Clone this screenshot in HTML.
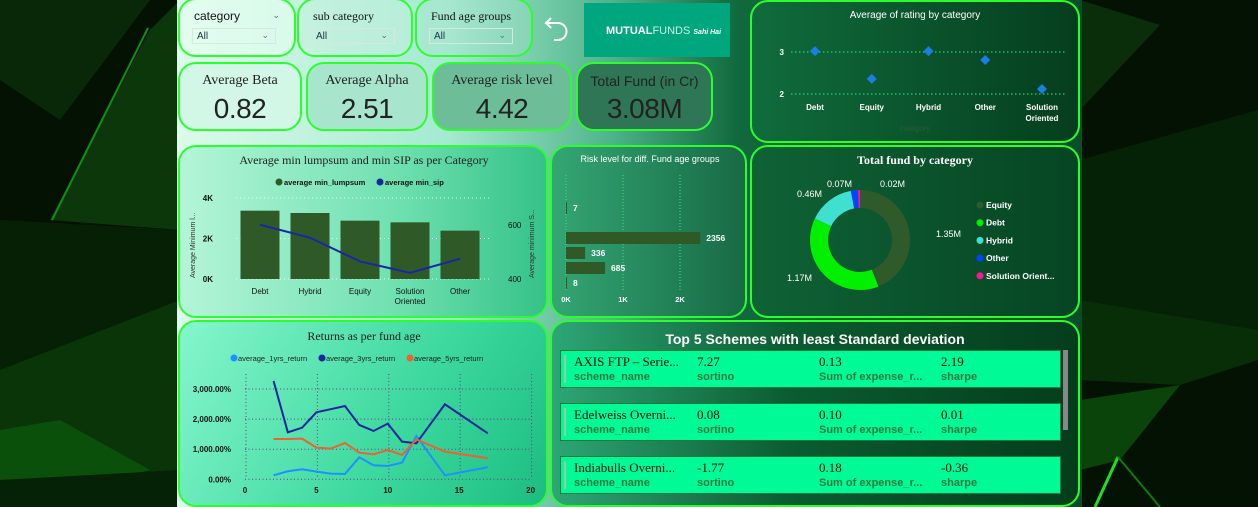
<!DOCTYPE html>
<html><head><meta charset="utf-8">
<style>
*{box-sizing:border-box;margin:0;padding:0}
body{width:1258px;height:507px;overflow:hidden;background:#041204;font-family:"Liberation Sans",sans-serif;position:relative}
.abs{position:absolute}
.panel{position:absolute;border:2px solid #2bff2b;border-radius:18px;overflow:hidden}
.slicer .lbl{position:absolute;left:14px;top:9px;font-family:"Liberation Serif",serif;font-size:12px;color:#111}
.slicer .box{position:absolute;left:12px;top:28px;width:84px;height:16px;border:1px solid #d8e8e0;font-size:10px;color:#234;padding:2px 0 0 4px}
.chev{position:absolute;right:6px;top:1px;font-size:9px;color:#577}
.kpi .t{position:absolute;left:0;right:0;top:9px;text-align:center;font-size:14px;color:#222}
.kpi .v{position:absolute;left:0;right:0;top:29px;text-align:center;font-size:28px;color:#222;font-family:"Liberation Sans Narrow","Liberation Sans",sans-serif;letter-spacing:-0.5px}
</style></head><body>
<svg class="abs" style="left:0;top:0" width="1258" height="507">
<rect width="1258" height="507" fill="#041204"/>
<polygon points="0,0 150,0 60,120 0,80" fill="#082808"/>
<polygon points="150,30 180,0 180,230 50,220" fill="#0b370b"/>
<polygon points="0,220 180,230 180,330 0,370" fill="#062006"/>
<polygon points="0,370 180,300 180,470 0,480" fill="#093509"/>
<polygon points="0,430 60,420 150,470 0,507" fill="#0a500a"/>
<polygon points="0,480 180,470 180,507 0,507" fill="#062206"/>
<line x1="148" y1="28" x2="52" y2="220" stroke="#178a17" stroke-width="2"/>
<polygon points="1080,0 1160,25 1080,110" fill="#0a2e0a"/>
<polygon points="1080,160 1258,110 1258,330 1080,300" fill="#062206"/>
<polygon points="1080,300 1258,330 1258,360 1180,385 1080,380" fill="#082e08"/>
<polygon points="1080,400 1180,385 1120,460 1080,470" fill="#0b440b"/>
<line x1="1118" y1="457" x2="1095" y2="507" stroke="#22dd22" stroke-width="3"/>
<line x1="1118" y1="457" x2="1160" y2="507" stroke="#0f7a0f" stroke-width="2"/>
</svg>

<div class="abs" style="left:177px;top:0;width:905px;height:507px;background:linear-gradient(90deg,#dcfbea 0%,#a4ead0 30%,#4fb48a 48%,#10693c 62%,#084d28 100%)"></div>

<div class="panel slicer" style="left:178px;top:-2px;width:118px;height:59px;background:rgba(230,255,242,0.6)"><div class="lbl" style="font-family:'Liberation Sans',sans-serif">category</div><span class="chev" style="top:10px;right:14px">&#8964;</span><div class="box">All<span class="chev">&#8964;</span></div></div>
<div class="panel slicer" style="left:297px;top:-2px;width:116px;height:59px;background:rgba(200,240,225,0.4)"><div class="lbl">sub category</div><div class="box">All<span class="chev">&#8964;</span></div></div>
<div class="panel slicer" style="left:415px;top:-2px;width:118px;height:59px;background:rgba(170,225,205,0.3)"><div class="lbl">Fund age groups</div><div class="box">All<span class="chev">&#8964;</span></div></div>
<svg class="abs" style="left:542px;top:14px" width="30" height="30"><path d="M4 9 H16 A8 8 0 0 1 16 26 H12" fill="none" stroke="#fff" stroke-width="2"/><path d="M9 4 L4 9 L9 14" fill="none" stroke="#fff" stroke-width="2"/></svg>
<div class="abs" style="left:584px;top:3px;width:146px;height:54px;background:#00a67e;color:#fff;font-size:11px;font-weight:bold;padding-top:22px;padding-left:22px">MUTUAL<span style="font-weight:normal;opacity:.8">FUNDS</span> <span style="font-size:7px;font-style:italic">Sahi Hai</span></div>

<div class="panel kpi" style="left:178px;top:62px;width:124px;height:69px;background:#d2f7e7"><div class="t" style="font-family:'Liberation Serif',serif">Average Beta</div><div class="v">0.82</div></div>
<div class="panel kpi" style="left:306px;top:62px;width:122px;height:69px;background:#a7e6cc"><div class="t" style="font-family:'Liberation Serif',serif">Average Alpha</div><div class="v">2.51</div></div>
<div class="panel kpi" style="left:432px;top:62px;width:140px;height:69px;background:#6cbd98"><div class="t" style="font-family:'Liberation Serif',serif">Average risk level</div><div class="v">4.42</div></div>
<div class="panel kpi" style="left:576px;top:62px;width:137px;height:69px;background:#2f7656"><div class="t">Total Fund (in Cr)</div><div class="v">3.08M</div></div>

<div class="panel" style="left:750px;top:0;width:330px;height:143px;background:linear-gradient(90deg,#106c3c,#053e1e)"></div>
<div class="panel" style="left:178px;top:145px;width:370px;height:173px;background:linear-gradient(90deg,#b4f5d8,#6ee0b0 60%,#35c288)"></div>
<div class="panel" style="left:550px;top:145px;width:197px;height:173px;background:linear-gradient(90deg,#34a674,#176a44)"></div>
<div class="panel" style="left:750px;top:145px;width:330px;height:173px;background:linear-gradient(90deg,#0f6236,#064523)"></div>
<div class="panel" style="left:178px;top:320px;width:370px;height:187px;background:linear-gradient(120deg,#86f6cc,#3cd89e 60%,#1cbd80)"></div>
<div class="panel" style="left:550px;top:320px;width:530px;height:187px;background:linear-gradient(90deg,#2ea676,#0b5c31 45%,#053d1c)">
<div class="abs" style="left:0;right:0;top:9px;text-align:center;color:#fff;font-weight:bold;font-size:14px">Top 5 Schemes with least Standard deviation</div>
</div>
<div id="tbl"></div>

<svg id="chart" class="abs" style="left:0;top:0" width="1258" height="507"></svg>

<script>
// rating chart
const ratingCats=["Debt","Equity","Hybrid","Other","Solution Oriented"];
const ratingVals=[3.02,2.36,3.02,2.81,2.12];
// lumpsum chart
const lumpCats=["Debt","Hybrid","Equity","Solution Oriented","Other"];
const lumpVals=[3374,3259,2881,2798,2387];
const sipVals=[601,553,465,423,475];
// risk chart
const riskVals=[7,null,2356,336,685,8];
const riskTicks=[0,1000,2000];
// donut
const donutCats=["Equity","Debt","Hybrid","Other","Solution Oriented"];
const donutVals=[1.35,1.17,0.46,0.07,0.02];
const donutColors=["#2f5a2a","#00f000","#3fe0d0","#0044ff","#ff1493"];
// returns
const retX=[2,3,4,5,6,7,8,9,10,11,12,14,17];
const ret1=[133,266,332,255,188,177,731,465,443,554,1440,133,399];
const ret3=[3267,1561,1716,2226,2330,2436,1805,1606,1849,1251,1196,2492,1528];
const ret5=[1340,1340,1351,1052,1019,1207,886,830,975,808,1329,919,698];
const retYTicks=[0,1000,2000,3000];
const retXTicks=[0,5,10,15,20];
// table
const schemes=["AXIS FTP – Serie...","Edelweiss Overni...","Indiabulls Overni..."];
const sortino=["7.27","0.08","-1.77"];
const expense=["0.13","0.10","0.18"];
const sharpe=["2.19","0.01","-0.36"];

const svg=document.getElementById('chart');
const NS="http://www.w3.org/2000/svg";
function mk(tag,attrs,parent){const e=document.createElementNS(NS,tag);for(const k in attrs)e.setAttribute(k,attrs[k]);(parent||svg).appendChild(e);return e;}
function txt(x,y,s,attrs,parent){const t=mk('text',Object.assign({x:x,y:y,'font-family':'Liberation Sans, sans-serif','font-size':9},attrs||{}),parent);t.textContent=s;return t;}

(function(){
const g=mk('g',{});


const x=i=>815+i*56.75, y=v=>94-(v-2)*42;
const t=txt(915,18,"Average of rating by category",{fill:'#fff','font-size':10,'text-anchor':'middle'},g);


[2,3].forEach(v=>{mk('line',{x1:791,x2:1065,y1:y(v),y2:y(v),stroke:'#1fd07a','stroke-dasharray':'1.5,2.5','stroke-width':1.3},g);const l=txt(784,y(v)+3,String(v),{fill:'#fff','font-size':8,'font-weight':'bold','text-anchor':'end'},g);});
ratingCats.forEach((c,i)=>{
 c.split(' ').forEach((w,j)=>{const l=txt(x(i),110+j*11,w,{fill:'#fff','font-size':8,'font-weight':'bold','text-anchor':'middle'},g);});
 const yy=y(ratingVals[i]);
 const d=mk('polygon',{points:`${x(i)},${yy-5} ${x(i)+5},${yy} ${x(i)},${yy+5} ${x(i)-5},${yy}`,fill:'#1a7ee6'},g);
 
 
});
txt(915,131,"category",{fill:'#2a5a3a','font-size':8,'text-anchor':'middle'},g);
})();

(function(){
const g=mk('g',{});


const x=i=>260+i*50, y=v=>279-v/4000*81, y2=v=>279-(v-400)/200*54;
const t=txt(364,164,"Average min lumpsum and min SIP as per Category",{fill:'#222','font-size':12,'font-family':'Liberation Serif, serif','text-anchor':'middle'},g);

mk('circle',{cx:279,cy:182,r:3.5,fill:'#2e5a28'},g);txt(284,185,"average min_lumpsum",{fill:'#111','font-size':7.5,'font-weight':'bold'},g);
mk('circle',{cx:380,cy:182,r:3.5,fill:'#1a28a0'},g);txt(385,185,"average min_sip",{fill:'#111','font-size':7.5,'font-weight':'bold'},g);
[0,2000,4000].forEach(v=>{mk('line',{x1:236,x2:492,y1:y(v),y2:y(v),stroke:'#fff','stroke-dasharray':'1,3',opacity:.8},g);const l=txt(213,y(v)+3,(v/1000)+"K",{fill:'#111','font-size':8,'font-weight':'bold','text-anchor':'end'},g);});
[400,600].forEach(v=>{const l=txt(508,y2(v)+3,String(v),{fill:'#111','font-size':8},g);});
const a=txt(0,0,"Average Minimum l...",{fill:'#333','font-size':7,transform:'translate(195,278) rotate(-90)'},g);
const b=txt(0,0,"Average minimum S...",{fill:'#333','font-size':7,transform:'translate(534,278) rotate(-90)'},g);
lumpVals.forEach((v,i)=>{const r=mk('rect',{x:x(i)-19.5,y:y(v),width:39,height:279-y(v),fill:'#2f5a28'},g);
 lumpCats[i].split(' ').forEach((w,j)=>{const l=txt(x(i),294+j*10,w,{fill:'#111','font-size':8,'text-anchor':'middle'},g);});});
const p=mk('polyline',{points:sipVals.map((v,i)=>x(i)+','+y2(v)).join(' '),fill:'none',stroke:'#1a28a0','stroke-width':2},g);

})();

(function(){
const g=mk('g',{});


const x=v=>566+v/1000*57, rowY=i=>208+i*15;
const t=txt(650,162,"Risk level for diff. Fund age groups",{fill:'#fff','font-size':9,'text-anchor':'middle'},g);
riskTicks.forEach(v=>{mk('line',{x1:x(v),x2:x(v),y1:175,y2:290,stroke:'#3fe08a','stroke-dasharray':'1,2'},g);const l=txt(x(v),302,(v/1000)+"K",{fill:'#fff','font-size':7.5,'font-weight':'bold','text-anchor':'middle'},g);});
riskVals.forEach((v,i)=>{if(v===null)return;const r=mk('rect',{x:566,y:rowY(i)-6,width:Math.max(1,x(v)-566),height:12,fill:'#2f5a28'},g);
 const l=txt(Math.max(x(v),567)+6,rowY(i)+3,String(v),{fill:'#fff','font-size':8.5,'font-weight':'bold'},g);});
})();

(function(){
const g=mk('g',{});


const cx=860,cy=240,R=50,r=32;
const t=txt(915,164,"Total fund by category",{fill:'#fff','font-size':12,'font-weight':'bold','font-family':'Liberation Serif, serif','text-anchor':'middle'},g);
const tot=donutVals.reduce((a,b)=>a+b,0);let a0=-Math.PI/2;
const labelPos=[[936,237,'start'],[812,281,'end'],[822,197,'end'],[852,187,'end'],[880,187,'start']];
donutVals.forEach((v,i)=>{const a1=a0+v/tot*2*Math.PI;const big=(a1-a0)>Math.PI?1:0;
 const P=(rad,a)=>[cx+rad*Math.cos(a),cy+rad*Math.sin(a)];
 const [x0,y0]=P(R,a0),[x1,y1]=P(R,a1),[x2,y2]=P(r,a1),[x3,y3]=P(r,a0);
 const s=mk('path',{d:`M${x0},${y0} A${R},${R} 0 ${big} 1 ${x1},${y1} L${x2},${y2} A${r},${r} 0 ${big} 0 ${x3},${y3}Z`,fill:donutColors[i]},g);
 
 const lp=labelPos[i];const l=txt(lp[0],lp[1],v.toFixed(2)+"M",{fill:'#fff','font-size':9,'text-anchor':lp[2]},g);
 a0=a1;});
donutCats.forEach((c,i)=>{mk('circle',{cx:980,cy:205+i*17.7,r:3.5,fill:donutColors[i]},g);const l=txt(986,208+i*17.7,c.length>16?"Solution Orient...":c,{fill:'#fff','font-size':8.5,'font-weight':'bold'},g);});
})();

(function(){
const g=mk('g',{});


const x=v=>245+v*14.28, y=v=>479.3-v/1000*30.1;
const t=txt(364,340,"Returns as per fund age",{fill:'#222','font-size':12,'font-family':'Liberation Serif, serif','text-anchor':'middle'},g);
const lg=[["average_1yrs_return","#1e90ff",234],["average_3yrs_return","#1a28a0",322],["average_5yrs_return","#f06030",410]];
lg.forEach(l=>{mk('circle',{cx:l[2],cy:358,r:3.5,fill:l[1]},g);const e=txt(l[2]+4,361,l[0],{fill:'#222','font-size':7.5},g);});
retYTicks.forEach(v=>{mk('line',{x1:245,x2:532,y1:y(v),y2:y(v),stroke:'#6a3a8a','stroke-dasharray':'1,2.5'},g);const l=txt(231,y(v)+3,v.toLocaleString('en-US')+".00%",{fill:'#111','font-size':8,'font-weight':'bold','text-anchor':'end'},g);});
retXTicks.forEach(v=>{mk('line',{x1:x(v)+1,x2:x(v)+1,y1:374,y2:479,stroke:'#6a3a8a','stroke-dasharray':'1,2.5'},g);const l=txt(x(v),493,String(v),{fill:'#111','font-size':8,'font-weight':'bold','text-anchor':'middle'},g);});
[[ret1,'#1e90ff','return-1yr-line'],[ret3,'#1a28a0','return-3yr-line'],[ret5,'#f06030','return-5yr-line']].forEach(s=>{const p=mk('polyline',{points:s[0].map((v,i)=>x(retX[i])+','+y(v)).join(' '),fill:'none',stroke:s[1],'stroke-width':2},g);});
})();

(function(){
const host=document.getElementById('tbl');
const tops=[350,403,456];
schemes.forEach((s,i)=>{
 const row=document.createElement('div');
 
 
 row.style.cssText=`position:absolute;left:560px;top:${tops[i]}px;width:501px;height:38px;background:#00fa96;border:1px solid #1e7a3a;`;
 row.innerHTML=`<div style="position:absolute;left:3px;top:4px;width:2px;height:28px;background:#9cc8a8"></div>`;
 const cols=[[13,s,'scheme_name'],[136,sortino[i],'sortino'],[258,expense[i],'Sum of expense_r...'],[380,sharpe[i],'sharpe']];
 cols.forEach(c=>{
  const v=document.createElement('div');v.textContent=c[1];
  
  
  v.style.cssText=`position:absolute;left:${c[0]}px;top:3px;font-family:"Liberation Serif",serif;font-size:13px;color:#111;white-space:nowrap`;
  const l=document.createElement('div');l.textContent=c[2];
  
  
  l.style.cssText=`position:absolute;left:${c[0]}px;top:20px;font-size:11px;color:#2e7a3e;font-weight:bold;white-space:nowrap`;
  row.appendChild(v);row.appendChild(l);
 });
 host.appendChild(row);
});
const sb=document.createElement('div');


sb.style.cssText='position:absolute;left:1063px;top:350px;width:5px;height:80px;background:#888';
host.appendChild(sb);
})();
</script>
</body></html>
